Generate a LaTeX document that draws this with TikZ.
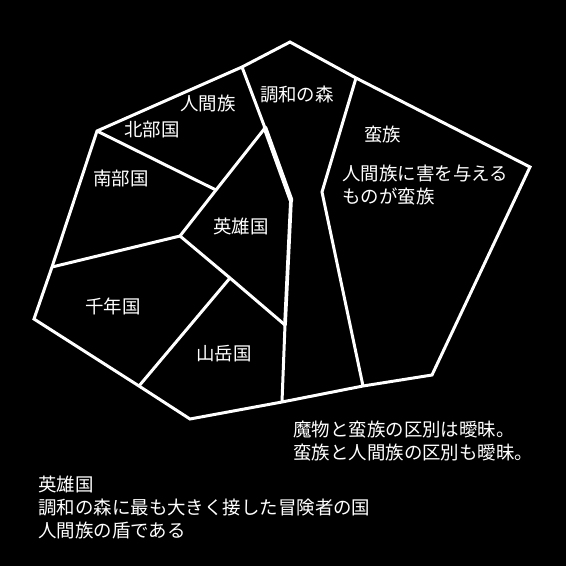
\documentclass[tikz,border=0pt]{standalone}
\usepackage{fontspec}
\setmainfont{Noto Sans CJK JP}
\tikzset{
    border/.style={draw=white, line width=1.7pt, line join=miter},
    heavy/.style={draw=white, line width=2.7pt},
    midline/.style={draw=white, line width=2.1pt},
    region/.style={text=white, inner sep=0pt, font=\fontsize{10.5}{13}\selectfont},
    note/.style={region, anchor=north west, align=left}
}

\begin{document}
\begin{tikzpicture}[x=0.02cm, y=-0.02cm]
            \fill[black] (0, 0) rectangle (566, 566);
            \useasboundingbox (0, 0) rectangle (566, 566);

            \coordinate (top) at (290, 42);
            \coordinate (fn) at (242, 67);
            \coordinate (bn) at (356, 78);
            \coordinate (east) at (530, 167);
            \coordinate (se) at (432, 375);
            \coordinate (bs) at (363, 386);
            \coordinate (fs) at (282, 402);
            \coordinate (south) at (190, 419);
            \coordinate (ms) at (139, 386);
            \coordinate (west) at (34, 319);
            \coordinate (sw) at (52, 267);
            \coordinate (nw) at (97, 131);

            \coordinate (fa) at (265, 128);
            \coordinate (fb) at (291, 200);
            \coordinate (fc) at (285, 325);
            \coordinate (ba) at (322, 192);
            \coordinate (hn) at (216, 190);
            \coordinate (hc) at (180, 236);
            \coordinate (hm) at (230, 278);

            \draw[border] (top) -- (bn) -- (east) -- (se) -- (bs) -- (fs) -- (south) -- (ms) -- (west) -- (sw) -- (nw) -- (fn) -- cycle;
            \draw[border] (fn) -- (fa);
            \draw[heavy, line cap=round] (fa) -- (fb);
            \draw[midline, line cap=round] (fb) -- (fc);
            \draw[border] (fc) -- (fs);
            \draw[border] (bn) -- (ba) -- (bs);
            \draw[border] (nw) -- (hn);
            \draw[border] (fa) -- (hn) -- (hc);
            \draw[border] (hc) -- (sw);
            \draw[border] (hc) -- (hm) -- (fc);
            \draw[border] (hm) -- (ms);

            \node[region] (human) at (208, 103) {人間族};
            \node[region] (forest) at (297, 95) {調和の森};
            \node[region] (north) at (152, 130) {北部国};
            \node[region] (southern) at (121, 178) {南部国};
            \node[region] (hero) at (241, 226) {英雄国};
            \node[region] (sennen) at (113, 306) {千年国};
            \node[region] (mountain) at (224, 354) {山岳国};
            \node[region] (barb) at (383, 135) {蛮族};

            \node[note] (barbnote) at (342, 165) {人間族に害を与える\\ものが蛮族};
            \node[note] (vague) at (293, 421) {魔物と蛮族の区別は曖昧。\\蛮族と人間族の区別も曖昧。};
            \node[note] (heronote) at (38, 476) {英雄国\\調和の森に最も大きく接した冒険者の国\\人間族の盾である};
        \end{tikzpicture}
\end{document}
